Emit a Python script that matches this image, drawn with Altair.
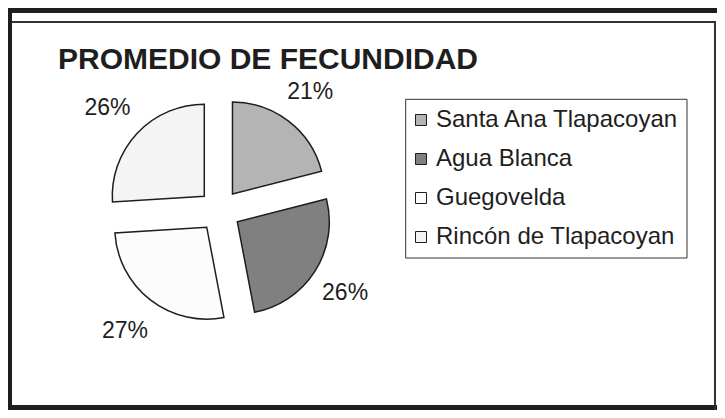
import altair as alt
import pandas as pd

# ---- data ----
names = ["Santa Ana Tlapacoyan", "Agua Blanca", "Guegovelda", "Rincón de Tlapacoyan"]
values = [21, 26, 27, 26]
labels = ["21%", "26%", "27%", "26%"]
colors = ["#b4b4b4", "#808080", "#fcfcfc", "#f4f4f4"]
order = [0, 1, 2, 3]
title_text = "PROMEDIO DE FECUNDIDAD"

df = pd.DataFrame({"name": names, "value": values, "label": labels, "order": order})

W, H = 709, 402
CX, CY = 211.6, 202.6
R = 92
EXPLODE = 21
LABEL_R = 151
LCX, LCY = CX - 2, CY + 1
FONT = "Liberation Sans"
INK = "#1e1e1e"

base = (
    alt.Chart(df)
    .transform_window(cum="sum(value)", sort=[alt.SortField("order")], frame=[None, 0])
    .transform_joinaggregate(total="sum(value)")
    .transform_calculate(
        t0="2*PI*(datum.cum-datum.value)/datum.total",
        t1="2*PI*datum.cum/datum.total",
    )
    .transform_calculate(mid="(datum.t0+datum.t1)/2")
    .transform_calculate(
        cx=f"{CX}+{EXPLODE}*sin(datum.mid)",
        cy=f"{CY}-{EXPLODE}*cos(datum.mid)",
        lx=f"{LCX}+{LABEL_R}*sin(datum.mid)",
        ly=f"{LCY}-{LABEL_R}*cos(datum.mid)",
    )
)

arcs = base.mark_arc(outerRadius=R, stroke=INK, strokeWidth=1.5).encode(
    theta=alt.Theta("t0:Q", scale=None),
    theta2="t1:Q",
    x=alt.X("cx:Q", scale=None),
    y=alt.Y("cy:Q", scale=None),
    color=alt.Color(
        "name:N",
        sort=names,
        scale=alt.Scale(domain=names, range=colors),
        legend=alt.Legend(
            title=None,
            orient="none",
            legendX=401,
            legendY=100,
            direction="vertical",
            padding=0,
            labelFont=FONT,
            labelFontSize=24,
            labelColor=INK,
            labelOffset=3,
            symbolType="square",
            symbolSize=121,
            symbolStrokeColor=INK,
            symbolStrokeWidth=1,
            symbolOpacity=1,
            rowPadding=15,
            labelLimit=400,
        ),
    ),
)

pct = base.mark_text(font=FONT, fontSize=23, color=INK, align="center", baseline="middle").encode(
    x=alt.X("lx:Q", scale=None),
    y=alt.Y("ly:Q", scale=None),
    text="label:N",
)

one = alt.Data(values=[{"t": title_text}])

title = alt.Chart(one).mark_text(
    font=FONT, fontSize=30, fontWeight="bold", color=INK, align="left", baseline="alphabetic"
).encode(x=alt.value(50), y=alt.value(61), text="t:N")

legend_box = alt.Chart(one).mark_rect(fill="white", stroke="#333333", strokeWidth=1).encode(
    x=alt.value(397.7), x2=alt.value(679), y=alt.value(91.3), y2=alt.value(250)
)

frame_top = alt.Chart(one).mark_rect(color=INK).encode(
    x=alt.value(0), x2=alt.value(W), y=alt.value(0), y2=alt.value(5)
)
frame_left = alt.Chart(one).mark_rect(color=INK).encode(
    x=alt.value(0), x2=alt.value(4), y=alt.value(0), y2=alt.value(H)
)
frame_bottom = alt.Chart(one).mark_rect(color=INK).encode(
    x=alt.value(0), x2=alt.value(W), y=alt.value(H - 5), y2=alt.value(H)
)
inner_top = alt.Chart(one).mark_rect(color="#333333").encode(
    x=alt.value(4), x2=alt.value(W - 1), y=alt.value(13), y2=alt.value(15)
)
inner_right = alt.Chart(one).mark_rect(color="#333333").encode(
    x=alt.value(W - 3), x2=alt.value(W - 1), y=alt.value(13), y2=alt.value(H)
)

chart = (
    alt.layer(frame_top, frame_left, frame_bottom, inner_top, inner_right,
              legend_box, arcs, pct, title)
    .properties(width=W, height=H, padding=0, autosize=alt.AutoSizeParams(type="none"))
    .configure_view(stroke=None)
    .configure(background="white")
)

chart.save("out.html", embed_options={"renderer": "svg", "actions": False})
